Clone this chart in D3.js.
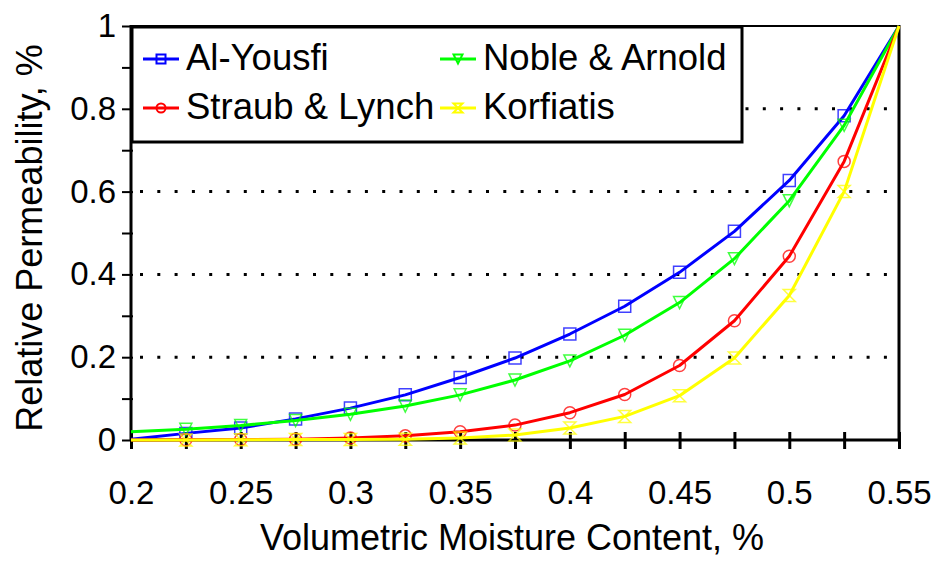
<!DOCTYPE html>
<html>
<head>
<meta charset="utf-8">
<script src="https://cdn.jsdelivr.net/npm/d3@7"></script>
<style>
  body { margin: 0; background: #fff; }
  svg text { font-family: "Liberation Sans", Arial, sans-serif; fill: #000; }
</style>
</head>
<body>
<div id="chart"></div>
<script>
// moisture content, every 0.025
const moisture = [0.2, 0.225, 0.25, 0.275, 0.3, 0.325, 0.35, 0.375, 0.4, 0.425, 0.45, 0.475, 0.5, 0.525, 0.55];

// series values
const alYousfi    = [0.002, 0.016, 0.029, 0.051, 0.077, 0.109, 0.151, 0.198, 0.256, 0.323, 0.405, 0.504, 0.627, 0.783, 1];
const nobleArnold = [0.02, 0.026, 0.035, 0.047, 0.062, 0.082, 0.109, 0.145, 0.191, 0.253, 0.332, 0.438, 0.578, 0.76, 1];
const straubLynch = [0, 0.0005, 0.001, 0.002, 0.005, 0.01, 0.02, 0.036, 0.066, 0.11, 0.18, 0.288, 0.444, 0.673, 1];
const korfiatis   = [0, 0, 0.0005, 0.001, 0.001, 0.002, 0.005, 0.012, 0.029, 0.057, 0.107, 0.198, 0.349, 0.6, 1];

const seriesNames = ["Al-Yousfi", "Noble & Arnold", "Straub & Lynch", "Korfiatis"];
const seriesValues = [alYousfi, nobleArnold, straubLynch, korfiatis];

// ticks
const xTicks = [0.2, 0.225, 0.25, 0.275, 0.3, 0.325, 0.35, 0.375, 0.4, 0.425, 0.45, 0.475, 0.5, 0.525, 0.55];
const xLabels = [0.2, 0.25, 0.3, 0.35, 0.4, 0.45, 0.5, 0.55];
const yTicks = [0, 0.1, 0.2, 0.3, 0.4, 0.5, 0.6, 0.7, 0.8, 0.9, 1];
const yLabels = [0, 0.2, 0.4, 0.6, 0.8, 1];
const yGrid = [0.2, 0.4, 0.6, 0.8];

const colors = ["#0000ff", "#00ff00", "#ff0000", "#ffff00"];
const markers = ["square", "triDown", "circle", "hourglass"];

const width = 938, height = 563;
const pL = 131, pR = 899, pT = 26, pB = 440;

const svg = d3.select("#chart").append("svg")
  .attr("width", width)
  .attr("height", height);

const x = d3.scaleLinear().domain([0.2, 0.55]).range([pL, pR]);
const y = d3.scaleLinear().domain([0, 1]).range([pB, pT]);

// dotted grid
svg.append("g").selectAll("line").data(yGrid).join("line")
  .attr("x1", pL + 9).attr("x2", pR)
  .attr("y1", d => y(d)).attr("y2", d => y(d))
  .attr("stroke", "#000")
  .attr("stroke-width", 3)
  .attr("stroke-linecap", "butt")
  .attr("stroke-dasharray", "3,14.3");

// frame top + right
svg.append("line").attr("x1", pL).attr("x2", pR).attr("y1", pT).attr("y2", pT)
  .attr("stroke", "#000").attr("stroke-width", 2);
svg.append("line").attr("x1", pR).attr("x2", pR).attr("y1", pT - 1).attr("y2", pB)
  .attr("stroke", "#000").attr("stroke-width", 3);

// y axis
const yAxis = svg.append("g")
  .attr("transform", `translate(${pL},0)`)
  .call(d3.axisLeft(y).tickValues(yTicks).tickSize(8).tickPadding(7)
    .tickFormat(d => yLabels.some(v => Math.abs(v - d) < 1e-9) ? d3.format("~g")(d) : ""));
yAxis.select(".domain").remove();
yAxis.selectAll(".tick line").attr("stroke-width", 2).attr("x2", -9).attr("x1", 2);
yAxis.selectAll(".tick text").style("font-size", "33px");
yAxis.append("line").attr("x1", 0).attr("x2", 0).attr("y1", pT - 1).attr("y2", pB + 1)
  .attr("stroke", "#000").attr("stroke-width", 3);

// x axis
const xAxis = svg.append("g")
  .attr("transform", `translate(0,${pB})`)
  .call(d3.axisBottom(x).tickValues(xTicks).tickSize(9)
    .tickFormat(d => xLabels.some(v => Math.abs(v - d) < 1e-9) ? d3.format("~g")(d) : ""));
xAxis.select(".domain").remove();
xAxis.selectAll(".tick line").attr("y1", -8).attr("stroke-width", 3);
xAxis.selectAll(".tick text").style("font-size", "33px").attr("y", 64).attr("dy", 0);
xAxis.append("line").attr("x1", pL - 1).attr("x2", pR + 1).attr("y1", 0).attr("y2", 0)
  .attr("stroke", "#000").attr("stroke-width", 3);

// axis titles
svg.append("text")
  .attr("x", 512).attr("y", 550)
  .attr("text-anchor", "middle")
  .style("font-size", "36px")
  .text("Volumetric Moisture Content, %");
svg.append("text")
  .attr("transform", "translate(42,238) rotate(-90)")
  .attr("text-anchor", "middle")
  .style("font-size", "36px")
  .text("Relative Permeability, %");

// marker shapes
function markerPath(type, s) {
  const h = s / 2;
  if (type === "square") return `M${-h},${-h}H${h}V${h}H${-h}Z`;
  if (type === "triDown") return `M${-h},${-h}H${h}L0,${h}Z`;
  if (type === "hourglass") return `M${-h},${-h}H${h}L${-h},${h}H${h}Z`;
  return `M${-h},0A${h},${h} 0 1,0 ${h},0A${h},${h} 0 1,0 ${-h},0Z`;
}

const line = d3.line()
  .x((d, i) => x(moisture[i]))
  .y(d => y(d));

const plot = svg.append("g");
seriesValues.forEach((vals, k) => {
  const g = plot.append("g");
  g.append("path")
    .attr("d", line(vals))
    .attr("fill", "none")
    .attr("stroke", colors[k])
    .attr("stroke-width", 3)
    .attr("stroke-linejoin", "round");
  g.selectAll("path.mk").data(vals.slice(1, -1)).join("path")
    .attr("class", "mk")
    .attr("transform", (d, i) => `translate(${x(moisture[i + 1])},${y(d)})`)
    .attr("d", markerPath(markers[k], 12))
    .attr("fill", "none")
    .attr("stroke", colors[k])
    .attr("stroke-width", 1.5)
    .attr("stroke-opacity", 0.75);
});

// legend
const legend = svg.append("g");
legend.append("rect")
  .attr("x", 132).attr("y", 27).attr("width", 610).attr("height", 115)
  .attr("fill", "#fff").attr("stroke", "#000").attr("stroke-width", 3);
const legendCols = [143, 440];
const legendRows = [59, 108];
seriesNames.forEach((name, k) => {
  const lx = legendCols[k % 2], ly = legendRows[Math.floor(k / 2)];
  legend.append("line")
    .attr("x1", lx).attr("x2", lx + 36).attr("y1", ly).attr("y2", ly)
    .attr("stroke", colors[k]).attr("stroke-width", 3);
  legend.append("path")
    .attr("transform", `translate(${lx + 18},${ly})`)
    .attr("d", markerPath(markers[k], 9))
    .attr("fill", "none").attr("stroke", colors[k]).attr("stroke-width", 2);
  legend.append("text")
    .attr("x", lx + 43).attr("y", ly).attr("dy", "0.3em")
    .style("font-size", "36.5px")
    .text(name);
});
</script>
</body>
</html>
